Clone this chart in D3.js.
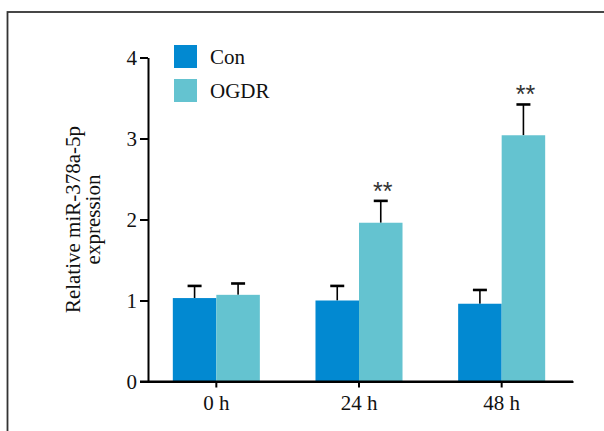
<!DOCTYPE html>
<html>
<head>
<meta charset="utf-8">
<script src="https://cdn.jsdelivr.net/npm/d3@7"></script>
<style>
  body { margin: 0; background: #fff; }
  text { font-family: "Liberation Serif", "Times New Roman", serif; }
</style>
</head>
<body>
<div id="chart"></div>
<script>
// values
const groups = ["0 h", "24 h", "48 h"];
const seriesNames = ["Con", "OGDR"];
const conMean = [1.03, 1.0, 0.96];
const conErr = [0.15, 0.18, 0.17];
const ogdrMean = [1.07, 1.96, 3.04];
const ogdrErr = [0.14, 0.27, 0.38];
const signif = ["", "**", "**"];
const yTicks = [0, 1, 2, 3, 4];

const svgWidth = 604;
const svgHeight = 431;
const colors = { Con: "#0289d1", OGDR: "#64c3d0" };

const svg = d3.select("#chart")
  .append("svg")
  .attr("width", svgWidth)
  .attr("height", svgHeight);

// outer frame, cut off at right and bottom
svg.append("rect")
  .attr("x", 7.5).attr("y", 12)
  .attr("width", 620).attr("height", 440)
  .attr("fill", "none")
  .attr("stroke", "#333")
  .attr("stroke-width", 1.8);

const y = d3.scaleLinear().domain([0, 4]).range([381.5, 57.5]);
const x = d3.scaleBand().domain(groups).range([145, 573])
  .paddingInner(0.39).paddingOuter(0.195);
const xSub = d3.scaleBand().domain(seriesNames).range([0, x.bandwidth()]);

const rows = groups.map((g, i) => ({
  group: g,
  stars: signif[i],
  bars: [
    { name: "Con", mean: conMean[i], err: conErr[i] },
    { name: "OGDR", mean: ogdrMean[i], err: ogdrErr[i] }
  ]
}));

// y axis
const yAxis = svg.append("g")
  .attr("transform", "translate(148,0)")
  .call(d3.axisLeft(y).tickValues(yTicks).tickFormat(d3.format("d"))
    .tickSize(8).tickPadding(3).tickSizeOuter(0));
yAxis.selectAll("text").attr("font-size", 21).attr("fill", "#111")
  .style("font-family", "'Liberation Serif', serif");

// x axis
const xAxis = svg.append("g")
  .attr("transform", "translate(0,381.5)")
  .call(d3.axisBottom(x).tickSize(6).tickPadding(8).tickSizeOuter(0));
xAxis.selectAll("text").attr("font-size", 21).attr("fill", "#111")
  .style("font-family", "'Liberation Serif', serif");

svg.selectAll(".domain, .tick line").attr("stroke", "#000").attr("stroke-width", 2);

// bars
const grp = svg.selectAll(".grp")
  .data(rows)
  .enter()
  .append("g")
  .attr("class", "grp")
  .attr("transform", d => `translate(${x(d.group)},0)`);

// error bars (upper only)
grp.selectAll(".stem")
  .data(d => d.bars)
  .enter()
  .append("line")
  .attr("x1", d => xSub(d.name) + xSub.bandwidth() / 2)
  .attr("x2", d => xSub(d.name) + xSub.bandwidth() / 2)
  .attr("y1", d => y(d.mean))
  .attr("y2", d => y(d.mean + d.err))
  .attr("stroke", "#000")
  .attr("stroke-width", 1.6);

grp.selectAll(".cap")
  .data(d => d.bars)
  .enter()
  .append("line")
  .attr("x1", d => xSub(d.name) + xSub.bandwidth() / 2 - 7)
  .attr("x2", d => xSub(d.name) + xSub.bandwidth() / 2 + 7)
  .attr("y1", d => y(d.mean + d.err))
  .attr("y2", d => y(d.mean + d.err))
  .attr("stroke", "#000")
  .attr("stroke-width", 2.6);

grp.selectAll("rect")
  .data(d => d.bars)
  .enter()
  .append("rect")
  .attr("x", d => xSub(d.name))
  .attr("width", xSub.bandwidth())
  .attr("y", d => y(d.mean))
  .attr("height", d => y(0) - y(d.mean))
  .attr("fill", d => colors[d.name]);

// significance stars over OGDR
grp.append("text")
  .attr("x", xSub("OGDR") + xSub.bandwidth() / 2 + 2)
  .attr("y", d => y(d.bars[1].mean + d.bars[1].err) - 1)
  .attr("text-anchor", "middle")
  .attr("font-size", 25)
  .attr("fill", "#333")
  .style("font-family", "'Liberation Sans', sans-serif")
  .text(d => d.stars);

// redraw x axis line over bar bottoms
svg.append("line")
  .attr("x1", 140).attr("x2", 573)
  .attr("y1", y(0)).attr("y2", y(0))
  .attr("stroke", "#000").attr("stroke-width", 2);

// y title
const title = svg.append("text")
  .attr("transform", `translate(80,${(y(0) + y(4)) / 2}) rotate(-90)`)
  .attr("text-anchor", "middle")
  .attr("font-size", 21)
  .attr("fill", "#111");
title.append("tspan").attr("x", 0).attr("y", 0).text("Relative miR-378a-5p");
title.append("tspan").attr("x", 0).attr("y", 20).text("expression");

// legend
const legend = svg.selectAll(".leg")
  .data(seriesNames)
  .enter()
  .append("g")
  .attr("class", "leg")
  .attr("transform", (d, i) => `translate(174,${45 + i * 34})`);
legend.append("rect")
  .attr("width", 23).attr("height", 23)
  .attr("fill", d => colors[d]);
legend.append("text")
  .attr("x", 36).attr("y", 19)
  .attr("font-size", 21)
  .attr("fill", "#111")
  .text(d => d);
</script>
</body>
</html>
